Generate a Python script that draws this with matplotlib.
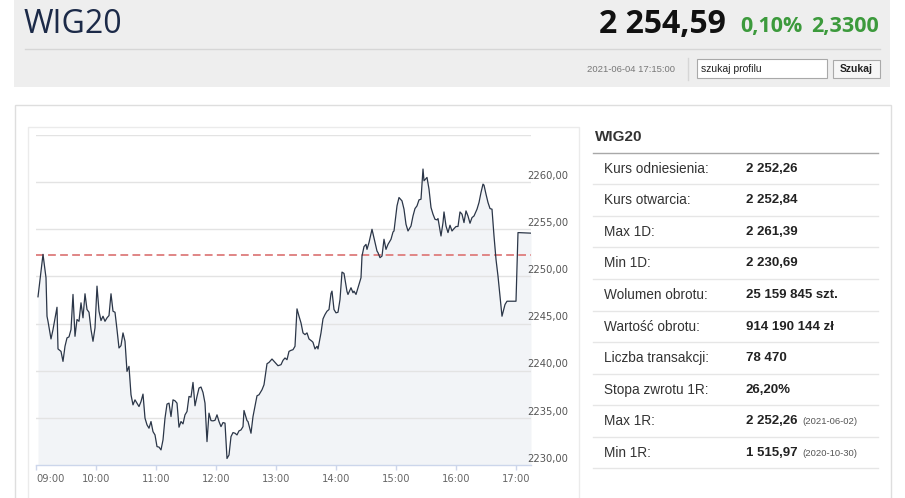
import matplotlib
matplotlib.use("Agg")
import matplotlib.pyplot as plt
from matplotlib.patches import Rectangle

# --- intraday WIG20 quotes (minutes after 09:00, index level) ---
minutes = [2, 7, 10, 11, 12, 15, 17, 21, 22, 25, 27, 29, 31, 33, 35, 37, 39, 41, 43, 45,
           47, 49, 51, 53, 55, 57, 59, 61, 63, 65, 67, 69, 71, 73, 75, 77, 79, 81, 83, 85,
           87, 89, 91, 93, 95, 97, 99, 101, 103, 105, 107, 109, 111, 113, 115, 117, 119, 121,
           123, 125, 127, 129, 131, 133, 135, 137, 139, 141, 143, 145, 147, 149, 151, 153,
           155, 157, 159, 161, 163, 165, 167, 169, 171, 173, 175, 177, 179, 181, 183, 185,
           187, 189, 191, 193, 195, 197, 199, 201, 203, 205, 207, 208, 211, 212, 215, 217,
           221, 223, 226, 228, 231, 233, 236, 239, 242, 245, 247, 249, 251, 253, 255, 257,
           259, 261, 263, 265, 267, 269, 271, 273, 276, 277, 279, 281, 282, 285, 287, 289,
           291, 293, 295, 296, 298, 300, 302, 304, 306, 308, 311, 312, 315, 317, 318, 320,
           322, 325, 326, 328, 330, 331, 333, 336, 339, 341, 342, 344, 346, 348, 350, 352,
           355, 357, 358, 361, 363, 366, 368, 370, 372, 375, 377, 379, 381, 383, 385, 387,
           388, 391, 393, 395, 397, 399, 401, 402, 405, 407, 408, 410, 412, 414, 416, 418,
           420, 422, 424, 426, 428, 430, 432, 434, 436, 438, 441, 443, 445, 447, 448, 450,
           452, 454, 456, 458, 460, 462, 464, 466, 469, 471, 473, 480, 482, 495]
prices = [2247.84, 2252.34, 2249.86, 2245.78, 2245.24, 2243.37, 2244.36, 2246.73, 2242.31, 2242.05,
          2240.99, 2242.59, 2243.48, 2243.59, 2244.36, 2248.09, 2243.65, 2245.43, 2245.24, 2247.20,
          2245.61, 2248.16, 2246.49, 2246.20, 2244.36, 2243.12, 2244.54, 2248.97, 2246.31, 2245.32,
          2245.78, 2245.24, 2245.61, 2245.85, 2248.16, 2246.31, 2246.20, 2244.36, 2242.41, 2242.66,
          2244.01, 2243.12, 2239.93, 2240.46, 2237.45, 2236.38, 2236.91, 2236.56, 2236.20, 2236.73,
          2237.52, 2234.97, 2234.26, 2233.90, 2234.61, 2233.54, 2233.19, 2231.95, 2231.90, 2231.60,
          2232.66, 2234.97, 2236.46, 2236.56, 2235.14, 2236.91, 2236.81, 2236.56, 2234.01, 2234.61,
          2234.36, 2235.32, 2235.67, 2237.27, 2237.20, 2238.76, 2236.28, 2237.27, 2238.16, 2238.27,
          2237.69, 2236.56, 2232.48, 2235.50, 2234.71, 2234.68, 2234.74, 2235.32, 2234.61, 2234.07,
          2234.50, 2234.44, 2230.69, 2231.06, 2233.01, 2233.44, 2233.37, 2233.19, 2233.62, 2233.72,
          2234.07, 2235.78, 2234.71, 2234.61, 2233.37, 2235.14, 2237.34, 2237.45, 2237.98, 2238.51,
          2240.74, 2240.88, 2241.24, 2240.88, 2240.53, 2240.64, 2241.10, 2241.35, 2241.17, 2242.05,
          2242.16, 2242.23, 2242.59, 2246.56, 2245.78, 2245.07, 2244.01, 2243.83, 2244.01, 2243.37,
          2243.12, 2243.01, 2242.31, 2242.59, 2242.31, 2244.01, 2245.50, 2245.96, 2246.31, 2246.49,
          2248.19, 2248.44, 2246.49, 2246.14, 2246.20, 2247.55, 2250.46, 2250.32, 2248.40, 2248.09,
          2248.80, 2248.27, 2248.44, 2248.09, 2248.80, 2249.86, 2252.16, 2253.16, 2253.40, 2252.87,
          2253.59, 2255.00, 2253.59, 2252.69, 2252.52, 2251.99, 2252.16, 2253.94, 2252.87, 2253.40,
          2253.94, 2254.71, 2254.82, 2257.48, 2258.37, 2258.01, 2257.13, 2255.53, 2254.82, 2255.35,
          2256.41, 2257.20, 2257.48, 2258.12, 2258.19, 2261.39, 2260.14, 2260.50, 2259.26, 2257.31,
          2256.60, 2256.06, 2256.00, 2256.14, 2254.29, 2255.71, 2256.84, 2255.35, 2254.65, 2255.43,
          2254.82, 2255.07, 2255.29, 2255.30, 2256.84, 2256.60, 2255.71, 2256.95, 2256.41, 2255.64,
          2256.24, 2256.41, 2257.13, 2257.84, 2258.90, 2259.79, 2259.68, 2258.72, 2257.84, 2257.20,
          2257.13, 2254.29, 2251.81, 2250.03, 2247.90, 2245.78, 2247.02, 2247.37, 2247.37, 2247.37,
          2254.65, 2254.59]
reference_price = 2252.26
hour_ticks = [0, 60, 120, 180, 240, 300, 360, 420, 480]
hour_labels = ["09:00", "10:00", "11:00", "12:00", "13:00", "14:00", "15:00", "16:00", "17:00"]
y_ticks = [2230, 2235, 2240, 2245, 2250, 2255, 2260]
y_labels = ["2230,00", "2235,00", "2240,00", "2245,00", "2250,00", "2255,00", "2260,00"]

# --- header and side table ---
index_name = "WIG20"
last_value = "2 254,59"
change_pct = "0,10%"
change_abs = "2,3300"
timestamp = "2021-06-04 17:15:00"
stat_labels = ["Kurs odniesienia:", "Kurs otwarcia:", "Max 1D:", "Min 1D:", "Wolumen obrotu:",
               "Wartość obrotu:", "Liczba transakcji:", "Stopa zwrotu 1R:", "Max 1R:", "Min 1R:"]
stat_values = ["2 252,26", "2 252,84", "2 261,39", "2 230,69", "25 159 845 szt.",
               "914 190 144 zł", "78 470", "26,20%", "2 252,26", "1 515,97"]
stat_notes = ["", "", "", "", "", "", "", "", "(2021-06-02)", "(2020-10-30)"]

W, H = 905, 498
fig = plt.figure(figsize=(W / 100, H / 100), dpi=100)
fig.patch.set_facecolor("white")

# page layer in pixel coordinates
bg = fig.add_axes([0, 0, 1, 1])
bg.set_xlim(0, W)
bg.set_ylim(H, 0)
bg.axis("off")

bg.add_patch(Rectangle((14, 0), 876, 87, fc="#eeeeee", ec="none"))
bg.plot([25, 880], [49, 49], color="#d6d6d6", lw=1)
bg.plot([688, 688], [58, 80], color="#d6d6d6", lw=1)
bg.text(24, 33, index_name, fontsize=23, family="Open Sans", color="#1c2a48", va="baseline")
bg.text(599, 33, last_value, fontsize=23, family="Open Sans", weight="bold", color="#111111",
        va="baseline")
bg.text(740, 32, change_pct, fontsize=15.5, family="Open Sans", weight="bold", color="#3c9a3c",
        va="baseline")
bg.text(811, 32, change_abs, fontsize=15.5, family="Open Sans", weight="bold", color="#3c9a3c",
        va="baseline")
bg.text(675, 69, timestamp, fontsize=6.8, family="Liberation Sans", color="#777777",
        ha="right", va="center")
bg.add_patch(Rectangle((697, 59), 130, 19, fc="white", ec="#a9a9a9", lw=0.8))
bg.text(701, 68.5, "szukaj profilu", fontsize=7.5, family="Liberation Sans", color="#222222",
        va="center")
bg.add_patch(Rectangle((833, 60), 47, 18, fc="#f6f6f6", ec="#a9a9a9", lw=0.8))
bg.text(856.5, 69, "Szukaj", fontsize=7.5, family="Liberation Sans", weight="bold",
        color="#222222", ha="center", va="center")

# card and chart panel
bg.add_patch(Rectangle((14.5, 104.5), 876, 420, fc="white", ec="#dedede", lw=1))
bg.add_patch(Rectangle((27.5, 126.5), 551, 400, fc="white", ec="#ebebeb", lw=1))

# side table
bg.text(595, 137, index_name, fontsize=11, family="Liberation Sans", weight="bold",
        color="#333333", va="center")
bg.plot([593, 878], [153.3, 153.3], color="#a8a8a8", lw=1)
for i, (lab, val, note) in enumerate(zip(stat_labels, stat_values, stat_notes)):
    yc = 168.5 + i * 31.6
    bg.text(604, yc, lab, fontsize=9.8, family="Liberation Sans", color="#333333", va="center")
    t = bg.text(745.5, yc, val, fontsize=9.5, family="Liberation Sans", weight="bold",
                color="#222222", va="center")
    if note:
        bg.text(802, yc + 0.5, note, fontsize=6.8, family="Liberation Sans", color="#555555",
                va="center")
    ysep = 184.3 + i * 31.55
    bg.plot([593, 878], [ysep, ysep], color="#e6e6e6", lw=1)

# price chart
ax = fig.add_axes([36 / W, 33 / H, 495 / W, 330 / H])
ax.set_facecolor("none")
ax.set_xlim(0, 495)
ax.set_ylim(2230, 2265)

for v in y_ticks[1:] + [2265]:
    ax.axhline(v, color="#e3e3e3", lw=1, zorder=1.5)
ax.fill_between(minutes, prices, 2230, color="#f2f4f7", lw=0, zorder=1)
ax.plot(minutes, prices, color="#2b3648", lw=0.9, zorder=3)
ax.axhline(reference_price, color="#e08585", lw=1.4, ls=(0, (4, 2.2)), zorder=2.5)

for v, lab in zip(y_ticks, y_labels):
    ax.annotate(lab, (1, v), xycoords=("axes fraction", "data"), xytext=(-3, 4.5),
                textcoords="offset points", ha="left", va="center", fontsize=7.2,
                color="#555555", annotation_clip=False)

for s in ["top", "left", "right"]:
    ax.spines[s].set_visible(False)
ax.spines["bottom"].set_color("#ccd6eb")
ax.spines["bottom"].set_linewidth(1)
ax.set_yticks([])
ax.set_xticks(hour_ticks)
ax.set_xticklabels(hour_labels)
ax.tick_params(axis="x", colors="#ccd6eb", length=3.6, width=1, pad=3, labelsize=7.2,
               labelcolor="#666666")
ax.get_xticklabels()[0].set_horizontalalignment("left")

fig.savefig("out.png", dpi=100)
